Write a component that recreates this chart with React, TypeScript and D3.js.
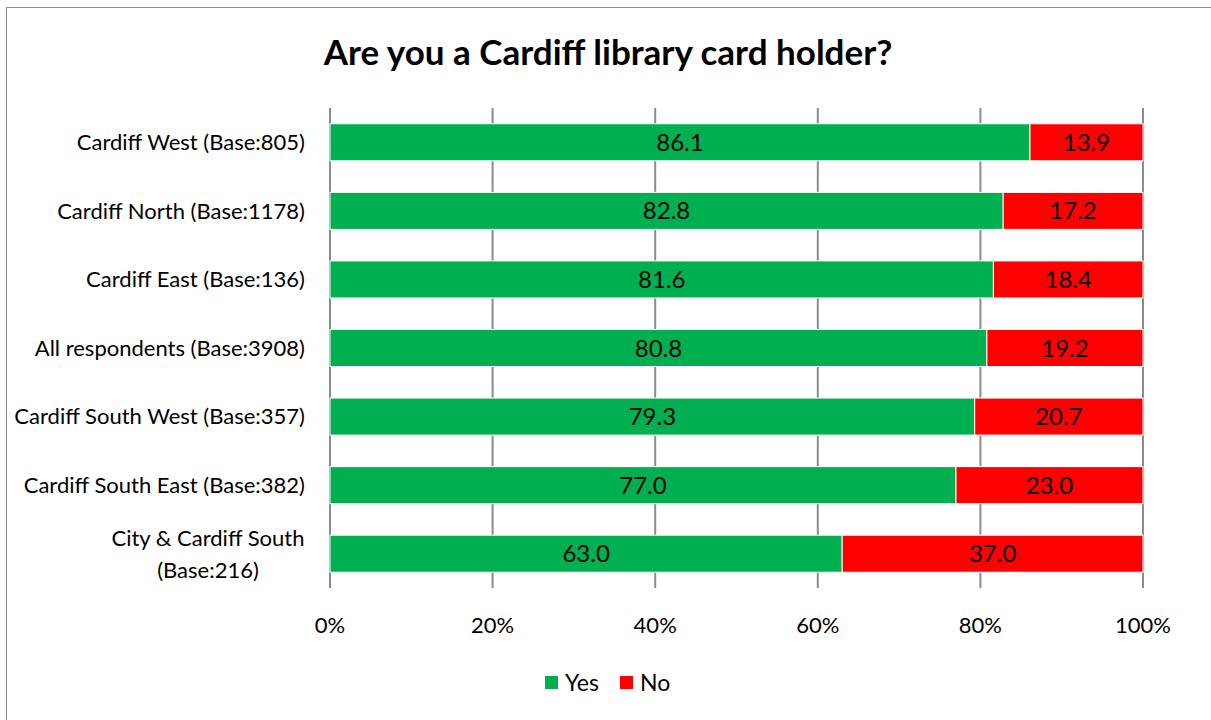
import React from "react";
import * as d3 from "d3";

const categories = [
  ["Cardiff West (Base:805)"],
  ["Cardiff North (Base:1178)"],
  ["Cardiff East (Base:136)"],
  ["All respondents (Base:3908)"],
  ["Cardiff South West (Base:357)"],
  ["Cardiff South East (Base:382)"],
  ["City & Cardiff South", "(Base:216)"],
];
const yesValues = [86.1, 82.8, 81.6, 80.8, 79.3, 77.0, 63.0];
const noValues = [13.9, 17.2, 18.4, 19.2, 20.7, 23.0, 37.0];
const xTicks = [0, 20, 40, 60, 80, 100];
const seriesNames = ["Yes", "No"];
const seriesColors = ["#00B050", "#FF0000"];

const W = 1211;
const H = 720;
const FONT = "Lato, 'Open Sans', sans-serif";

function measure(text: string, size: number): number {
  const c = document.createElement("canvas").getContext("2d");
  if (!c) return text.length * size * 0.5;
  c.font = `${size}px Lato, 'Open Sans', sans-serif`;
  return c.measureText(text).width;
}

export default function App() {
  const x = d3.scaleLinear().domain([0, 100]).range([330, 1143]);
  const keys = categories.map((_, i) => String(i));
  const y = d3.scaleBand().domain(keys).range([108, 588]).paddingInner(0.46).paddingOuter(0.23);
  const rows = categories.map((c, i) => ({ key: String(i), yes: yesValues[i], no: noValues[i] }));
  const stack = d3.stack<any>().keys(["yes", "no"])(rows);

  return (
    <svg width={W} height={H} style={{ position: "absolute", left: 0, top: 0, background: "#fff" }}>
      <rect x={6.5} y={7.5} width={W + 10} height={H + 10} fill="#fff" stroke="#8c8c8c" strokeWidth={1} />
      <text x={608} y={65} textAnchor="middle" fontFamily={FONT} fontWeight="bold" fontSize={35} fill="#000">
        Are you a Cardiff library card holder?
      </text>
      {xTicks.map((t) => (
        <line key={t} x1={x(t)} x2={x(t)} y1={108} y2={588} stroke="#8c8c8c" strokeWidth={2} />
      ))}
      {stack.map((s, si) =>
        s.map((d, i) => (
          <g key={si + "-" + i}>
            <rect
              x={x(d[0])}
              y={y(keys[i])!}
              width={x(d[1]) - x(d[0])}
              height={y.bandwidth()}
              fill={seriesColors[si]}
              stroke="#fff"
              strokeWidth={1}
            />
            <text
              x={(x(d[0]) + x(d[1])) / 2}
              y={y(keys[i])! + y.bandwidth() / 2}
              dy="0.36em"
              textAnchor="middle"
              fontFamily={FONT}
              fontSize={24}
              fill="#000"
            >
              {(d[1] - d[0]).toFixed(1)}
            </text>
          </g>
        ))
      )}
      {categories.map((c, i) => {
        const cy = y(keys[i])! + y.bandwidth() / 2;
        const lh = 32;
        if (c.length === 1) {
          return (
            <text key={i} x={305} y={cy} dy="0.36em" textAnchor="end" fontFamily={FONT} fontSize={22} fill="#000">
              {c[0]}
            </text>
          );
        }
        const maxW = Math.max(...c.map((l) => measure(l, 22)));
        const cx = 305 - maxW / 2;
        return (
          <text key={i} textAnchor="middle" fontFamily={FONT} fontSize={22} fill="#000">
            {c.map((line, li) => (
              <tspan key={li} x={cx} y={cy + (li - (c.length - 1) / 2) * lh} dy="0.36em">
                {line}
              </tspan>
            ))}
          </text>
        );
      })}
      {xTicks.map((t) => (
        <text key={"l" + t} x={x(t)} y={625} dy="0.36em" textAnchor="middle" fontFamily={FONT} fontSize={22} fill="#000">
          {t}%
        </text>
      ))}
      {seriesNames.map((n, i) => {
        const lx = [545, 620][i];
        return (
          <g key={n}>
            <rect x={lx} y={676} width={13} height={13} fill={seriesColors[i]} />
            <text x={lx + 20} y={682.5} dy="0.36em" fontFamily={FONT} fontSize={23} fill="#000">
              {n}
            </text>
          </g>
        );
      })}
    </svg>
  );
}
